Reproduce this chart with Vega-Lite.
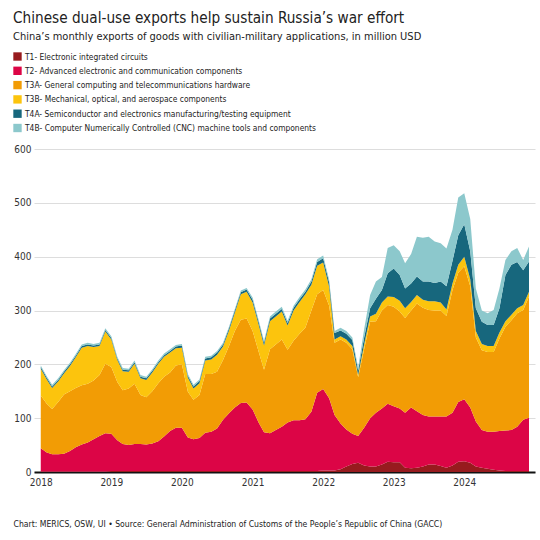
{
  "$schema": "https://vega.github.io/schema/vega-lite/v6.json",
  "autosize": "none",
  "padding": {"left": 34, "top": 149, "right": 5, "bottom": 68},
  "width": 501,
  "height": 323,
  "background": "white",
  "title": {
    "text": "Chinese dual-use exports help sustain Russia’s war effort",
    "subtitle": "China’s monthly exports of goods with civilian-military applications, in million USD",
    "anchor": "start",
    "frame": "group",
    "dx": -21,
    "offset": 10,
    "font": "DejaVu Sans Condensed",
    "fontSize": 15.2,
    "fontWeight": "normal",
    "color": "#222222",
    "subtitleFont": "DejaVu Sans Condensed",
    "subtitleFontSize": 11,
    "subtitleColor": "#222222",
    "subtitlePadding": 5
  },
  "data": {
    "values": [
      {"d": "2018-01-01", "T1": 1, "T2": 43, "T3A": 98, "T3B": 50, "T4A": 3, "T4B": 3},
      {"d": "2018-02-01", "T1": 1, "T2": 35, "T3A": 91, "T3B": 45, "T4A": 3, "T4B": 3},
      {"d": "2018-03-01", "T1": 1, "T2": 32, "T3A": 84, "T3B": 39, "T4A": 3, "T4B": 3},
      {"d": "2018-04-01", "T1": 1, "T2": 32, "T3A": 97, "T3B": 38, "T4A": 3, "T4B": 3},
      {"d": "2018-05-01", "T1": 1, "T2": 33, "T3A": 110, "T3B": 39, "T4A": 3, "T4B": 3},
      {"d": "2018-06-01", "T1": 1, "T2": 38, "T3A": 111, "T3B": 47, "T4A": 3, "T4B": 3},
      {"d": "2018-07-01", "T1": 1, "T2": 45, "T3A": 110, "T3B": 57, "T4A": 3, "T4B": 3},
      {"d": "2018-08-01", "T1": 1, "T2": 50, "T3A": 110, "T3B": 70, "T4A": 3, "T4B": 3},
      {"d": "2018-09-01", "T1": 1, "T2": 54, "T3A": 109, "T3B": 70, "T4A": 3, "T4B": 3},
      {"d": "2018-10-01", "T1": 1, "T2": 60, "T3A": 109, "T3B": 62, "T4A": 3, "T4B": 3},
      {"d": "2018-11-01", "T1": 1, "T2": 66, "T3A": 113, "T3B": 54, "T4A": 3, "T4B": 3},
      {"d": "2018-12-01", "T1": 1, "T2": 71, "T3A": 129, "T3B": 60, "T4A": 3, "T4B": 3},
      {"d": "2019-01-01", "T1": 2, "T2": 69, "T3A": 124, "T3B": 51, "T4A": 3, "T4B": 3},
      {"d": "2019-02-01", "T1": 2, "T2": 57, "T3A": 108, "T3B": 41, "T4A": 3, "T4B": 3},
      {"d": "2019-03-01", "T1": 2, "T2": 50, "T3A": 100, "T3B": 35, "T4A": 3, "T4B": 3},
      {"d": "2019-04-01", "T1": 2, "T2": 48, "T3A": 105, "T3B": 31, "T4A": 3, "T4B": 3},
      {"d": "2019-05-01", "T1": 2, "T2": 50, "T3A": 112, "T3B": 37, "T4A": 3, "T4B": 3},
      {"d": "2019-06-01", "T1": 2, "T2": 50, "T3A": 91, "T3B": 31, "T4A": 3, "T4B": 3},
      {"d": "2019-07-01", "T1": 2, "T2": 49, "T3A": 88, "T3B": 32, "T4A": 3, "T4B": 3},
      {"d": "2019-08-01", "T1": 2, "T2": 51, "T3A": 97, "T3B": 35, "T4A": 3, "T4B": 3},
      {"d": "2019-09-01", "T1": 2, "T2": 55, "T3A": 108, "T3B": 36, "T4A": 3, "T4B": 3},
      {"d": "2019-10-01", "T1": 2, "T2": 64, "T3A": 111, "T3B": 37, "T4A": 3, "T4B": 3},
      {"d": "2019-11-01", "T1": 2, "T2": 74, "T3A": 109, "T3B": 37, "T4A": 3, "T4B": 3},
      {"d": "2019-12-01", "T1": 2, "T2": 80, "T3A": 116, "T3B": 32, "T4A": 3, "T4B": 3},
      {"d": "2020-01-01", "T1": 2, "T2": 80, "T3A": 118, "T3B": 31, "T4A": 4, "T4B": 3},
      {"d": "2020-02-01", "T1": 2, "T2": 62, "T3A": 85, "T3B": 26, "T4A": 4, "T4B": 3},
      {"d": "2020-03-01", "T1": 2, "T2": 59, "T3A": 73, "T3B": 21, "T4A": 4, "T4B": 3},
      {"d": "2020-04-01", "T1": 2, "T2": 61, "T3A": 80, "T3B": 22, "T4A": 4, "T4B": 3},
      {"d": "2020-05-01", "T1": 2, "T2": 71, "T3A": 109, "T3B": 25, "T4A": 4, "T4B": 3},
      {"d": "2020-06-01", "T1": 2, "T2": 73, "T3A": 107, "T3B": 27, "T4A": 4, "T4B": 3},
      {"d": "2020-07-01", "T1": 2, "T2": 79, "T3A": 105, "T3B": 32, "T4A": 4, "T4B": 3},
      {"d": "2020-08-01", "T1": 2, "T2": 95, "T3A": 111, "T3B": 25, "T4A": 4, "T4B": 3},
      {"d": "2020-09-01", "T1": 2, "T2": 107, "T3A": 125, "T3B": 29, "T4A": 4, "T4B": 3},
      {"d": "2020-10-01", "T1": 2, "T2": 118, "T3A": 142, "T3B": 34, "T4A": 4, "T4B": 3},
      {"d": "2020-11-01", "T1": 2, "T2": 126, "T3A": 155, "T3B": 47, "T4A": 4, "T4B": 3},
      {"d": "2020-12-01", "T1": 2, "T2": 127, "T3A": 156, "T3B": 50, "T4A": 4, "T4B": 3},
      {"d": "2021-01-01", "T1": 2, "T2": 114, "T3A": 146, "T3B": 53, "T4A": 5, "T4B": 4},
      {"d": "2021-02-01", "T1": 2, "T2": 90, "T3A": 132, "T3B": 50, "T4A": 5, "T4B": 4},
      {"d": "2021-03-01", "T1": 2, "T2": 72, "T3A": 116, "T3B": 45, "T4A": 5, "T4B": 4},
      {"d": "2021-04-01", "T1": 2, "T2": 70, "T3A": 156, "T3B": 52, "T4A": 5, "T4B": 4},
      {"d": "2021-05-01", "T1": 2, "T2": 76, "T3A": 159, "T3B": 52, "T4A": 5, "T4B": 4},
      {"d": "2021-06-01", "T1": 2, "T2": 82, "T3A": 162, "T3B": 52, "T4A": 5, "T4B": 4},
      {"d": "2021-07-01", "T1": 2, "T2": 90, "T3A": 135, "T3B": 45, "T4A": 5, "T4B": 4},
      {"d": "2021-08-01", "T1": 2, "T2": 94, "T3A": 148, "T3B": 56, "T4A": 5, "T4B": 4},
      {"d": "2021-09-01", "T1": 2, "T2": 94, "T3A": 161, "T3B": 59, "T4A": 5, "T4B": 4},
      {"d": "2021-10-01", "T1": 2, "T2": 96, "T3A": 170, "T3B": 62, "T4A": 5, "T4B": 4},
      {"d": "2021-11-01", "T1": 2, "T2": 110, "T3A": 188, "T3B": 48, "T4A": 6, "T4B": 4},
      {"d": "2021-12-01", "T1": 2, "T2": 145, "T3A": 183, "T3B": 53, "T4A": 7, "T4B": 5},
      {"d": "2022-01-01", "T1": 3, "T2": 151, "T3A": 184, "T3B": 51, "T4A": 8, "T4B": 5},
      {"d": "2022-02-01", "T1": 3, "T2": 134, "T3A": 172, "T3B": 35, "T4A": 8, "T4B": 5},
      {"d": "2022-03-01", "T1": 3, "T2": 103, "T3A": 134, "T3B": 6, "T4A": 12, "T4B": 4},
      {"d": "2022-04-01", "T1": 5, "T2": 85, "T3A": 156, "T3B": 6, "T4A": 11, "T4B": 5},
      {"d": "2022-05-01", "T1": 10, "T2": 69, "T3A": 161, "T3B": 6, "T4A": 11, "T4B": 5},
      {"d": "2022-06-01", "T1": 15, "T2": 56, "T3A": 157, "T3B": 6, "T4A": 11, "T4B": 5},
      {"d": "2022-07-01", "T1": 17, "T2": 50, "T3A": 109, "T3B": 4, "T4A": 8, "T4B": 6},
      {"d": "2022-08-01", "T1": 12, "T2": 70, "T3A": 146, "T3B": 9, "T4A": 13, "T4B": 15},
      {"d": "2022-09-01", "T1": 10, "T2": 90, "T3A": 179, "T3B": 10, "T4A": 15, "T4B": 25},
      {"d": "2022-10-01", "T1": 10, "T2": 100, "T3A": 170, "T3B": 14, "T4A": 28, "T4B": 32},
      {"d": "2022-11-01", "T1": 14, "T2": 104, "T3A": 182, "T3B": 15, "T4A": 23, "T4B": 24},
      {"d": "2022-12-01", "T1": 19, "T2": 108, "T3A": 183, "T3B": 16, "T4A": 43, "T4B": 47},
      {"d": "2023-01-01", "T1": 18, "T2": 104, "T3A": 185, "T3B": 18, "T4A": 53, "T4B": 43},
      {"d": "2023-02-01", "T1": 18, "T2": 100, "T3A": 180, "T3B": 20, "T4A": 48, "T4B": 44},
      {"d": "2023-03-01", "T1": 8, "T2": 102, "T3A": 176, "T3B": 18, "T4A": 37, "T4B": 47},
      {"d": "2023-04-01", "T1": 7, "T2": 113, "T3A": 180, "T3B": 16, "T4A": 34, "T4B": 55},
      {"d": "2023-05-01", "T1": 8, "T2": 105, "T3A": 200, "T3B": 16, "T4A": 34, "T4B": 74},
      {"d": "2023-06-01", "T1": 10, "T2": 96, "T3A": 199, "T3B": 15, "T4A": 34, "T4B": 81},
      {"d": "2023-07-01", "T1": 14, "T2": 89, "T3A": 198, "T3B": 16, "T4A": 37, "T4B": 83},
      {"d": "2023-08-01", "T1": 14, "T2": 89, "T3A": 197, "T3B": 17, "T4A": 34, "T4B": 77},
      {"d": "2023-09-01", "T1": 11, "T2": 92, "T3A": 197, "T3B": 15, "T4A": 39, "T4B": 71},
      {"d": "2023-10-01", "T1": 8, "T2": 95, "T3A": 187, "T3B": 12, "T4A": 43, "T4B": 70},
      {"d": "2023-11-01", "T1": 12, "T2": 98, "T3A": 228, "T3B": 12, "T4A": 42, "T4B": 58},
      {"d": "2023-12-01", "T1": 19, "T2": 111, "T3A": 240, "T3B": 15, "T4A": 55, "T4B": 70},
      {"d": "2024-01-01", "T1": 20, "T2": 115, "T3A": 247, "T3B": 18, "T4A": 60, "T4B": 58},
      {"d": "2024-02-01", "T1": 17, "T2": 103, "T3A": 225, "T3B": 13, "T4A": 52, "T4B": 60},
      {"d": "2024-03-01", "T1": 10, "T2": 84, "T3A": 156, "T3B": 12, "T4A": 42, "T4B": 37},
      {"d": "2024-04-01", "T1": 8, "T2": 70, "T3A": 148, "T3B": 12, "T4A": 41, "T4B": 21},
      {"d": "2024-05-01", "T1": 6, "T2": 69, "T3A": 148, "T3B": 11, "T4A": 39, "T4B": 22},
      {"d": "2024-06-01", "T1": 4, "T2": 71, "T3A": 148, "T3B": 11, "T4A": 39, "T4B": 28},
      {"d": "2024-07-01", "T1": 3, "T2": 73, "T3A": 172, "T3B": 11, "T4A": 45, "T4B": 37},
      {"d": "2024-08-01", "T1": 2, "T2": 75, "T3A": 193, "T3B": 10, "T4A": 86, "T4B": 28},
      {"d": "2024-09-01", "T1": 2, "T2": 76, "T3A": 204, "T3B": 10, "T4A": 93, "T4B": 25},
      {"d": "2024-10-01", "T1": 2, "T2": 82, "T3A": 211, "T3B": 9, "T4A": 86, "T4B": 26},
      {"d": "2024-11-01", "T1": 2, "T2": 95, "T3A": 204, "T3B": 9, "T4A": 65, "T4B": 19},
      {"d": "2024-12-01", "T1": 2, "T2": 99, "T3A": 225, "T3B": 9, "T4A": 56, "T4B": 28}
    ]
  },
  "transform": [
    {"fold": ["T1", "T2", "T3A", "T3B", "T4A", "T4B"], "as": ["series", "value"]}
  ],
  "mark": {"type": "area", "interpolate": "linear"},
  "encoding": {
    "x": {
      "field": "d",
      "type": "temporal",
      "scale": {
        "type": "utc",
        "domain": [
          {"year": 2017, "month": 11, "date": 27, "utc": true},
          {"year": 2025, "month": 1, "date": 1, "utc": true}
        ]
      },
      "axis": {
        "values": [
          {"year": 2018, "month": 1, "date": 1, "utc": true},
          {"year": 2019, "month": 1, "date": 1, "utc": true},
          {"year": 2020, "month": 1, "date": 1, "utc": true},
          {"year": 2021, "month": 1, "date": 1, "utc": true},
          {"year": 2022, "month": 1, "date": 1, "utc": true},
          {"year": 2023, "month": 1, "date": 1, "utc": true},
          {"year": 2024, "month": 1, "date": 1, "utc": true}
        ],
        "format": "%Y",
        "grid": false,
        "ticks": false,
        "domainColor": "#111111",
        "domainWidth": 2,
        "labelPadding": 5,
        "labelFont": "DejaVu Sans Condensed",
        "labelFontSize": 10,
        "labelColor": "#333333",
        "title": "Chart: MERICS, OSW, UI • Source: General Administration of Customs of the People’s Republic of China (GACC)",
        "titleFont": "DejaVu Sans Condensed",
        "titleFontSize": 8.6,
        "titleFontWeight": "normal",
        "titleColor": "#222222",
        "titleAnchor": "start",
        "titleAlign": "left",
        "titleBaseline": "alphabetic",
        "titleX": -21,
        "titleY": 54
      }
    },
    "y": {
      "field": "value",
      "type": "quantitative",
      "stack": "zero",
      "scale": {"domain": [0, 600], "nice": false},
      "axis": {
        "values": [0, 100, 200, 300, 400, 500, 600],
        "domain": false,
        "ticks": false,
        "gridColor": "#dddddd",
        "gridWidth": 1,
        "labelPadding": 3,
        "labelFont": "DejaVu Sans Condensed",
        "labelFontSize": 10,
        "labelColor": "#333333",
        "title": null
      }
    },
    "color": {
      "field": "series",
      "type": "nominal",
      "scale": {
        "domain": ["T1", "T2", "T3A", "T3B", "T4A", "T4B"],
        "range": ["#971b1e", "#dc0546", "#f29c05", "#fcc40d", "#17677d", "#8cc8cc"]
      },
      "legend": {
        "orient": "none",
        "legendX": -21,
        "legendY": -97,
        "direction": "vertical",
        "title": null,
        "symbolType": "square",
        "symbolSize": 70,
        "symbolStrokeWidth": 0,
        "symbolOpacity": 1,
        "labelFont": "DejaVu Sans Condensed",
        "labelFontSize": 8.4,
        "labelColor": "#222222",
        "labelOffset": 3,
        "rowPadding": 5.3,
        "labelLimit": 500,
        "labelExpr": "datum.label == 'T1' ? 'T1- Electronic integrated circuits' : datum.label == 'T2' ? 'T2- Advanced electronic and communication components' : datum.label == 'T3A' ? 'T3A- General computing and telecommunications hardware' : datum.label == 'T3B' ? 'T3B- Mechanical, optical, and aerospace components' : datum.label == 'T4A' ? 'T4A- Semiconductor and electronics manufacturing/testing equipment' : 'T4B- Computer Numerically Controlled (CNC) machine tools and components'"
      }
    },
    "order": {"field": "series", "sort": "ascending"}
  },
  "config": {
    "view": {"stroke": null}
  }
}
